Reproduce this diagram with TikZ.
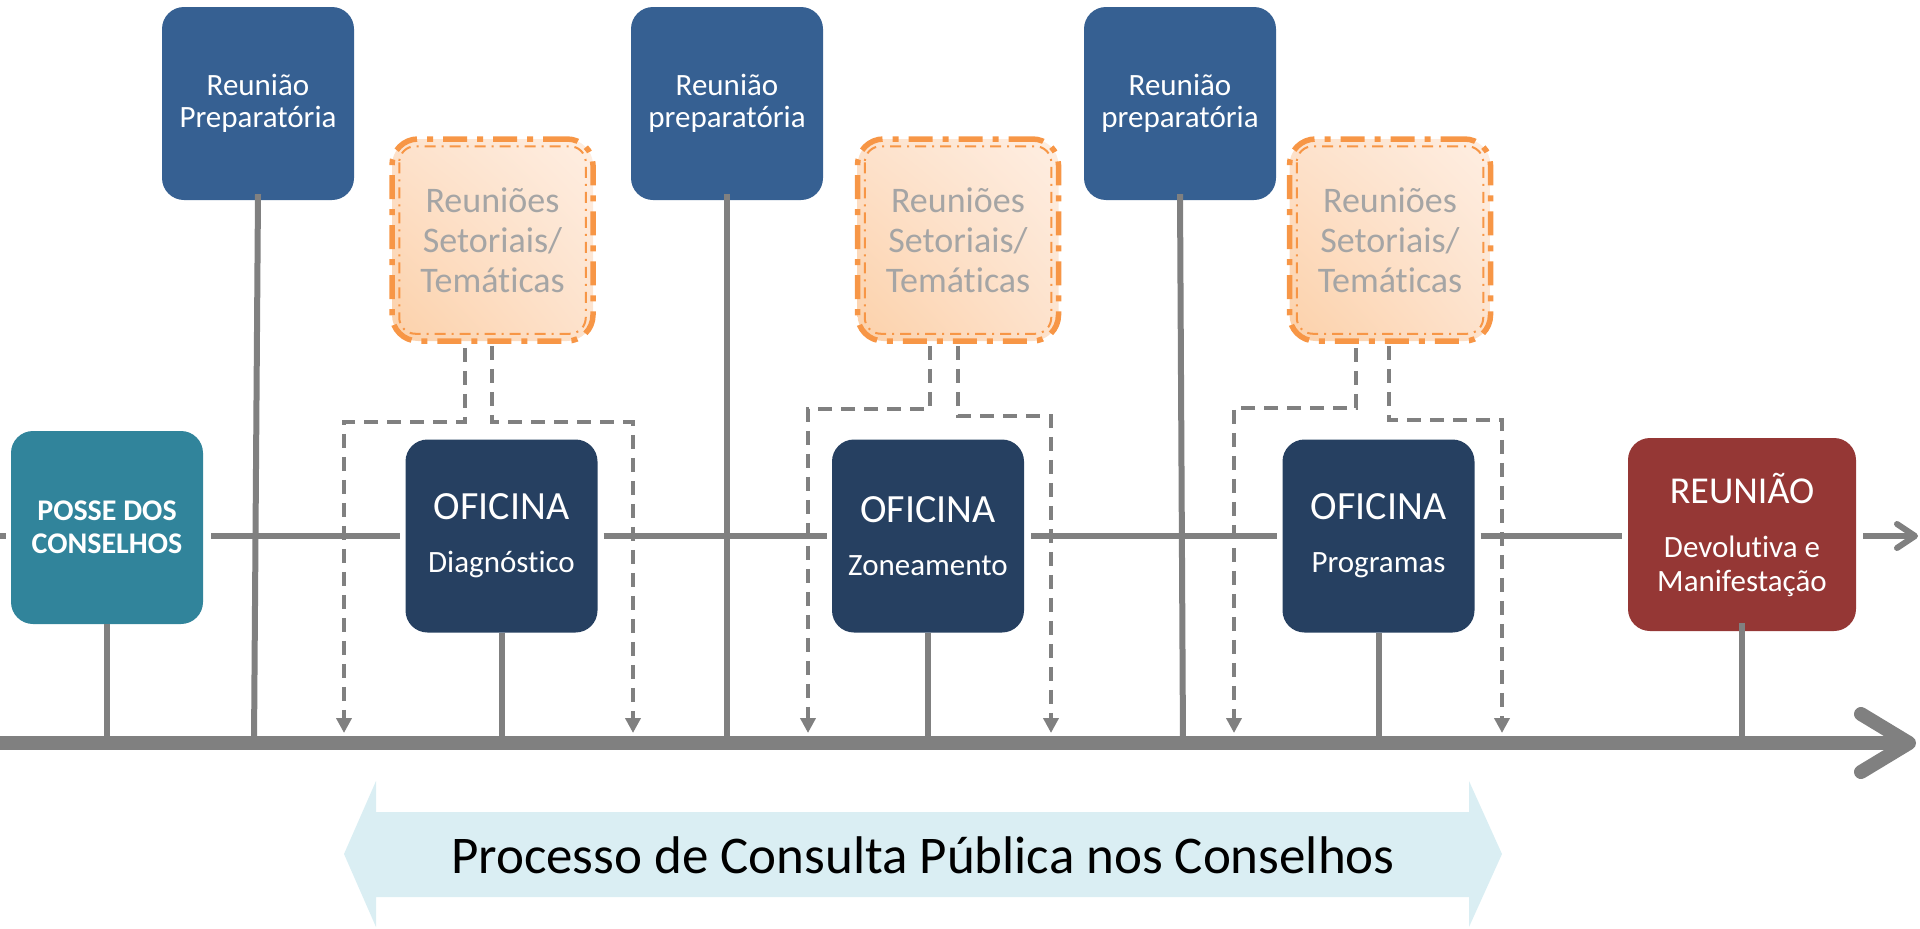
\documentclass[tikz,border=0pt]{standalone}
\usepackage{fontspec}
\setmainfont{Carlito}[Ligatures=NoCommon]
\usetikzlibrary{arrows.meta,shadings,calc}
\definecolor{prepblue}{HTML}{366092}
\definecolor{ofnavy}{HTML}{264061}
\definecolor{posseteal}{HTML}{31849B}
\definecolor{reured}{HTML}{953735}
\definecolor{lgray}{HTML}{808080}
\definecolor{orng}{HTML}{F79646}
\definecolor{sttext}{HTML}{A5A5A5}
\definecolor{bannerblue}{HTML}{DAEEF3}
\definecolor{peachdark}{HTML}{FCD1AA}
\definecolor{peachlight}{HTML}{FEEEE2}
\definecolor{peachmid}{HTML}{FDE2CC}
\begin{document}
\begin{tikzpicture}[x=1pt,y=-1pt,
  box/.style={rounded corners=22pt, inner sep=0pt, align=center, text=white,
    minimum width=192pt, minimum height=193pt},
  prepbox/.style={box, fill=prepblue, font=\fontsize{31}{32}\selectfont},
  ofbox/.style={box, fill=ofnavy, font=\fontsize{40}{53}\selectfont},
  possebox/.style={box, fill=posseteal, font=\bfseries\fontsize{30}{33}\selectfont},
  reubox/.style={box, fill=reured, minimum width=228pt, font=\fontsize{38}{54}\selectfont},
  setbox/.style={rounded corners=26pt, inner sep=0pt, align=center,
    minimum width=201pt, minimum height=202pt, text=sttext,
    font=\fontsize{36}{40}\selectfont, draw=orng, line width=5.5pt,
    dash pattern=on 24pt off 10pt on 6pt off 10pt,
    lower left=peachdark, upper right=peachlight, upper left=peachmid, lower right=peachmid},
  setinner/.style={draw=orng, line width=2pt, rounded corners=16pt,
    dash pattern=on 11pt off 6pt on 2pt off 6pt},
  hline/.style={draw=lgray, line width=6pt},
  vline/.style={draw=lgray, line width=6pt},
  dashconn/.style={draw=lgray, line width=4pt, dash pattern=on 14pt off 9pt,
    -{Triangle[length=15pt,width=15pt]}},
  axisline/.style={draw=lgray, line width=14pt,
    -{Straight Barb[length=48pt,width=58pt,round]}},
  bannertext/.style={font=\fontsize{53}{60}\selectfont, text=black, inner sep=0pt}
]
\useasboundingbox (0,0) rectangle (1920,929);

% banner
\fill[bannerblue] (344,854) -- (376,781) -- (376,812) -- (1469,812) -- (1469,781)
  -- (1502,854) -- (1469,927) -- (1469,897) -- (376,897) -- (376,927) -- cycle;
\node[bannertext, anchor=base] (ban) at (923,873) {Processo de Consulta Pública nos Conselhos};

% axis coordinates
\coordinate (axL) at (0,743);
\coordinate (axR) at (1916,743);
\coordinate (t1) at (254,743);
\coordinate (t3) at (1183,743);

% nodes
\node[prepbox] (rp1) at (258,103.5) {Reunião\\Preparatória};
\node[prepbox] (rp2) at (727,103.5) {Reunião\\preparatória};
\node[prepbox] (rp3) at (1180,103.5) {Reunião\\preparatória};

\node[setbox] (st1) at (492.5,240) {Reuniões\\Setoriais/\\Temáticas};
\node[setbox] (st2) at (958,240) {Reuniões\\Setoriais/\\Temáticas};
\node[setbox] (st3) at (1390,240) {Reuniões\\Setoriais/\\Temáticas};
\foreach \s in {st1,st2,st3}{
  \draw[setinner] ([xshift=10pt,yshift=-10pt]\s.north west) rectangle ([xshift=-10pt,yshift=10pt]\s.south east);
}

\node[possebox] (posse) at (107,527.5) {POSSE DOS\\CONSELHOS};
\node[ofbox] (of1) at (501.5,536) {OFICINA\\{\fontsize{31}{37}\selectfont Diagnóstico}};
\node[ofbox] (of2) at (928,536) {OFICINA\\{\fontsize{31}{37}\selectfont Zoneamento}};
\node[ofbox] (of3) at (1378.5,536) {OFICINA\\{\fontsize{31}{37}\selectfont Programas}};
\node[reubox] (reu) at (1742,534.5) {REUNIÃO\\{\fontsize{31}{34}\selectfont Devolutiva e}\\[-20pt]{\fontsize{31}{34}\selectfont Manifestação}};

% horizontal line
\coordinate (hl0) at (0,536);
\coordinate (hlend) at (1918,536);
\draw[hline] (hl0) -- ++(6,0);
\draw[hline, shorten <=8pt, shorten >=5pt] (posse.east |- of1.west) -- (of1.west);
\draw[hline, shorten <=6pt, shorten >=5pt] (of1.east) -- (of2.west);
\draw[hline, shorten <=7pt, shorten >=5pt] (of2.east) -- (of3.west);
\draw[hline, shorten <=6pt, shorten >=6pt] (of3.east) -- (reu.west |- of3.east);
\draw[hline, shorten <=7pt, -{Straight Barb[length=18pt,width=24pt,round]}] (reu.east |- hlend) -- (hlend);

% vertical connectors
\draw[vline] (posse.south) -- (posse.south |- axL);
\draw[vline] ([yshift=6pt]rp1.south) -- (t1);
\draw[vline] (of1.south) -- (of1.south |- axL);
\draw[vline] ([yshift=6pt]rp2.south) -- (rp2.south |- axL);
\draw[vline] (of2.south) -- (of2.south |- axL);
\draw[vline] ([yshift=6pt]rp3.south) -- (t3);
\draw[vline] (of3.south) -- (of3.south |- axL);
\draw[vline] ([yshift=8pt]reu.south) -- (reu.south |- axL);

% dashed connectors
\coordinate (d1L) at (344,733);
\coordinate (d1R) at (633,733);
\coordinate (d2L) at (808,733);
\coordinate (d2R) at (1051,733);
\coordinate (d3L) at (1234,733);
\coordinate (d3R) at (1502,733);
\draw[dashconn] ([xshift=-27.5pt,yshift=-4pt]st1.south) -- ++(0,74) -| (d1L);
\draw[dashconn] ([xshift=-0.5pt,yshift=-2pt]st1.south) -- ++(0,76) -| (d1R);
\draw[dashconn] ([xshift=-28pt,yshift=-2pt]st2.south) -- ++(0,63) -| (d2L);
\draw[dashconn] ([xshift=0pt,yshift=-2pt]st2.south) -- ++(0,70) -| (d2R);
\draw[dashconn] ([xshift=-34pt,yshift=-4pt]st3.south) -- ++(0,60) -| (d3L);
\draw[dashconn] ([xshift=-1pt,yshift=-2pt]st3.south) -- ++(0,74) -| (d3R);

% axis
\draw[axisline] (axL) -- (axR);
\end{tikzpicture}
\end{document}
